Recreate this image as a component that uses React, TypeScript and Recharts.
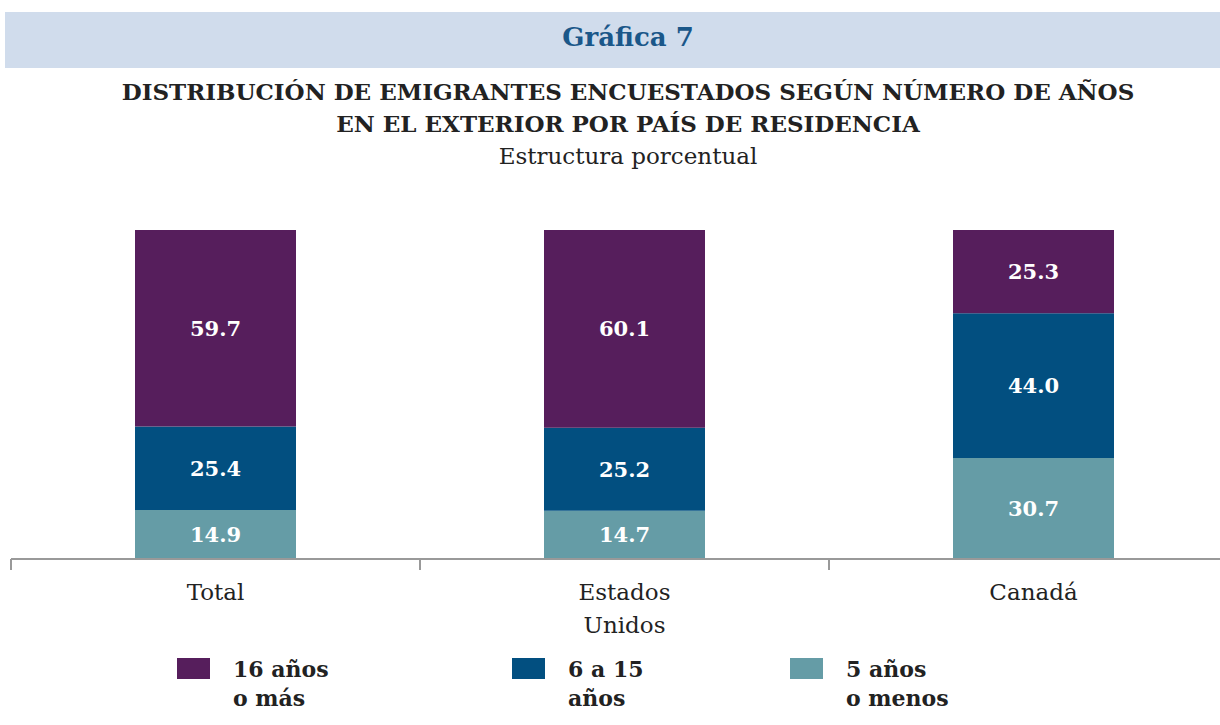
import { BarChart, Bar, XAxis, YAxis, Legend, LabelList } from 'recharts';

const categories = ['Total', 'Estados Unidos', 'Canadá'];
const menos5 = [14.9, 14.7, 30.7];
const de6a15 = [25.4, 25.2, 44.0];
const mas16 = [59.7, 60.1, 25.3];

const SERIES = [
  { key: 'mas16', label: ['16 años', 'o más'], color: '#561e5c' },
  { key: 'de6a15', label: ['6 a 15', 'años'], color: '#024f80' },
  { key: 'menos5', label: ['5 años', 'o menos'], color: '#659ca6' },
];

const data = categories.map((name, i) => ({
  name,
  menos5: menos5[i],
  de6a15: de6a15[i],
  mas16: mas16[i],
}));

const FONT = '"DejaVu Serif", "Liberation Serif", serif';

// etiqueta de categoría en varias líneas ("Estados Unidos") + marca en el borde izquierdo de la categoría
function CategoryTick(props: any) {
  const { x, y, payload } = props;
  const lines: string[] = String(payload.value).split(' ');
  const edge = x - (payload.offset ?? 0);
  return (
    <g>
      <line x1={edge} x2={edge} y1={y - 8} y2={y + 3} stroke="#999" strokeWidth={2} />
      <text x={x} y={y} textAnchor="middle" fill="#222" fontFamily={FONT} fontSize={23}>
        {lines.map((l, i) => (
          <tspan key={i} x={x} dy={i === 0 ? 33 : 33}>
            {l}
          </tspan>
        ))}
      </text>
    </g>
  );
}

// leyenda: cuadro de color + texto en dos líneas
const legendSlots = [335, 278, 260];
function LegendBox() {
  return (
    <div style={{ display: 'flex', fontFamily: FONT, fontWeight: 'bold', fontSize: 22, color: '#222' }}>
      {SERIES.map((s, i) => (
        <div key={s.key} style={{ width: legendSlots[i], display: 'flex', alignItems: 'flex-start' }}>
          <div style={{ width: 33, height: 21, background: s.color, marginTop: 3, marginRight: 23 }} />
          <div style={{ lineHeight: '29px' }}>
            {s.label.map((t) => (
              <div key={t}>{t}</div>
            ))}
          </div>
        </div>
      ))}
    </div>
  );
}

export default function App() {
  return (
    <div
      style={{
        position: 'absolute',
        left: 0,
        top: 0,
        width: 1220,
        height: 725,
        overflow: 'hidden',
        background: '#fff',
      }}
    >
      <div
        style={{
          position: 'absolute',
          left: 5,
          top: 12,
          width: 1215,
          height: 56,
          background: '#d0dcec',
        }}
      />
      <div
        style={{
          position: 'absolute',
          left: 0,
          width: 1256,
          top: 22,
          textAlign: 'center',
          fontFamily: FONT,
          fontWeight: 'bold',
          fontSize: 26,
          color: '#1a5789',
        }}
      >
        Gráfica 7
      </div>
      <div
        style={{
          position: 'absolute',
          left: 0,
          width: 1256,
          top: 76,
          textAlign: 'center',
          fontFamily: FONT,
          fontWeight: 'bold',
          fontSize: 23,
          lineHeight: '32px',
          color: '#222',
        }}
      >
        <div>DISTRIBUCIÓN DE EMIGRANTES ENCUESTADOS SEGÚN NÚMERO DE AÑOS</div>
        <div>EN EL EXTERIOR POR PAÍS DE RESIDENCIA</div>
      </div>
      <div
        style={{
          position: 'absolute',
          left: 0,
          width: 1256,
          top: 143,
          textAlign: 'center',
          fontFamily: FONT,
          fontSize: 23,
          color: '#222',
        }}
      >
        Estructura porcentual
      </div>

      <BarChart
        width={1240}
        height={725}
        data={data}
        margin={{ top: 230, right: 2, bottom: 41, left: 11 }}
        barCategoryGap={124}
        style={{ position: 'absolute', left: 0, top: 0 }}
      >
        <YAxis hide domain={[0, 100]} />
        <XAxis
          dataKey="name"
          height={67}
          axisLine={{ stroke: '#999', strokeWidth: 2 }}
          tickLine={false}
          tick={<CategoryTick />}
          interval={0}
        />
        <Legend
          verticalAlign="bottom"
          content={<LegendBox />}
          wrapperStyle={{ position: 'absolute', left: 177, top: 655, width: 900 }}
        />
        {[...SERIES].reverse().map((s) => (
          <Bar key={s.key} dataKey={s.key} stackId="a" fill={s.color} isAnimationActive={false}>
            <LabelList
              dataKey={s.key}
              position="center"
              formatter={(v: any) => Number(v).toFixed(1)}
              fill="#fff"
              fontFamily={FONT}
              fontWeight="bold"
              fontSize={21}
            />
          </Bar>
        ))}
      </BarChart>
    </div>
  );
}
